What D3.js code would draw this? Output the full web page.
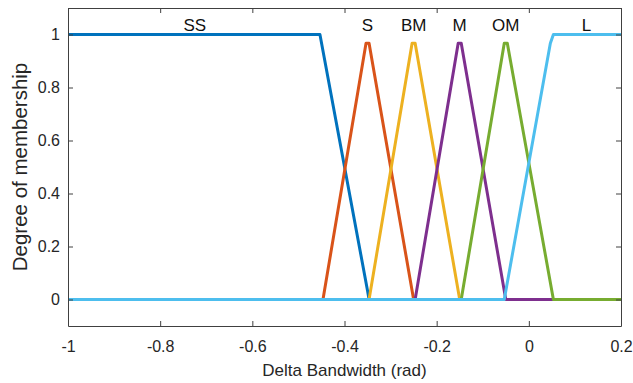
<!DOCTYPE html>
<html>
<head>
<meta charset="utf-8">
<script src="https://cdn.jsdelivr.net/npm/d3@7"></script>
<style>
  body { margin: 0; background: #fff; }
  svg { display: block; font-family: "Liberation Sans", Arial, sans-serif; }
</style>
</head>
<body>
<div id="chart"></div>
<script>
// membership functions, vertices (x in rad, y degree)
const ssPts = [[-1, 1], [-0.4533, 1], [-0.35, 0.033], [-0.3467, 0], [0.2, 0]];
const sPts  = [[-1, 0], [-0.4467, 0], [-0.3533, 0.967], [-0.3467, 0.967], [-0.25, 0], [0.2, 0]];
const bmPts = [[-1, 0], [-0.3467, 0], [-0.2533, 0.967], [-0.2467, 0.967], [-0.15, 0], [0.2, 0]];
const mPts  = [[-1, 0], [-0.2467, 0], [-0.1533, 0.967], [-0.1467, 0.967], [-0.05, 0], [0.2, 0]];
const omPts = [[-1, 0], [-0.1467, 0], [-0.0533, 0.967], [-0.0467, 0.967], [0.0533, 0], [0.2, 0]];
const lPts  = [[-1, 0], [-0.0533, 0], [0.0467, 0.967], [0.0533, 1], [0.2, 1]];

const mfNames  = ['SS', 'S', 'BM', 'M', 'OM', 'L'];
const mfPoints = [ssPts, sPts, bmPts, mPts, omPts, lPts];
const labelX   = [-0.725, -0.35, -0.25, -0.15, -0.05, 0.125];
const colors   = ['#0072BD', '#D95319', '#EDB120', '#7E2F8E', '#77AC30', '#4DBEEE'];

const xTicks = [-1, -0.8, -0.6, -0.4, -0.2, 0, 0.2];
const yTicks = [0, 0.2, 0.4, 0.6, 0.8, 1];

const W = 633, H = 383;
const m = {left: 68, right: 12, top: 8, bottom: 57};

const svg = d3.select('#chart').append('svg')
  .attr('width', W).attr('height', H);

const x = d3.scaleLinear().domain([-1, 0.2]).range([m.left, W - m.right]);
const y = d3.scaleLinear().domain([-0.1, 1.1]).range([H - m.bottom, m.top]);

const axisCol = '#404040';
const tickCol = '#262626';

// lines
const line = d3.line().x(d => x(d[0])).y(d => y(d[1]));
svg.append('g')
   .selectAll('path')
   .data(mfPoints)
   .join('path')
   .attr('d', d => line(d))
   .attr('fill', 'none')
   .attr('stroke', (d, i) => colors[i])
   .attr('stroke-width', 3)
   .attr('stroke-linejoin', 'round');

// box + axes (matlab style, ticks inside on all sides)
const fmt = d => d3.format('')(+d.toFixed(1)).replace('\u2212', '-');

const xAxis = svg.append('g')
  .attr('transform', `translate(0,${H - m.bottom})`)
  .call(d3.axisBottom(x).tickValues(xTicks).tickSizeInner(-5).tickSizeOuter(0).tickPadding(15).tickFormat(fmt));
const yAxis = svg.append('g')
  .attr('transform', `translate(${m.left},0)`)
  .call(d3.axisLeft(y).tickValues(yTicks).tickSizeInner(-5).tickSizeOuter(0).tickPadding(8).tickFormat(fmt));
const xTop = svg.append('g')
  .attr('transform', `translate(0,${m.top})`)
  .call(d3.axisTop(x).tickValues(xTicks).tickSizeInner(-5).tickSizeOuter(0).tickFormat(''));
const yRight = svg.append('g')
  .attr('transform', `translate(${W - m.right},0)`)
  .call(d3.axisRight(y).tickValues(yTicks).tickSizeInner(-5).tickSizeOuter(0).tickFormat(''));

[xAxis, yAxis, xTop, yRight].forEach(a => {
  a.select('.domain').attr('stroke', axisCol);
  a.selectAll('.tick line').attr('stroke', axisCol);
  a.selectAll('.tick text')
   .attr('fill', tickCol)
   .style('font-size', '16px')
   .style('font-family', '"Liberation Sans", Arial, sans-serif');
});

// mf labels
svg.append('g')
   .selectAll('text')
   .data(mfNames)
   .join('text')
   .attr('x', (d, i) => x(labelX[i]))
   .attr('y', y(1) - 3.5)
   .attr('text-anchor', 'middle')
   .attr('fill', '#111')
   .style('font-size', '17px')
   .text(d => d);

// axis titles
svg.append('text')
   .attr('x', (x(-1) + x(0.2)) / 2)
   .attr('y', 376)
   .attr('text-anchor', 'middle')
   .attr('fill', tickCol)
   .style('font-size', '17px')
   .text('Delta Bandwidth (rad)');

svg.append('text')
   .attr('transform', `translate(27,${(y(-0.1) + y(1.1)) / 2}) rotate(-90)`)
   .attr('text-anchor', 'middle')
   .attr('fill', tickCol)
   .style('font-size', '20.5px')
   .text('Degree of membership');
</script>
</body>
</html>
